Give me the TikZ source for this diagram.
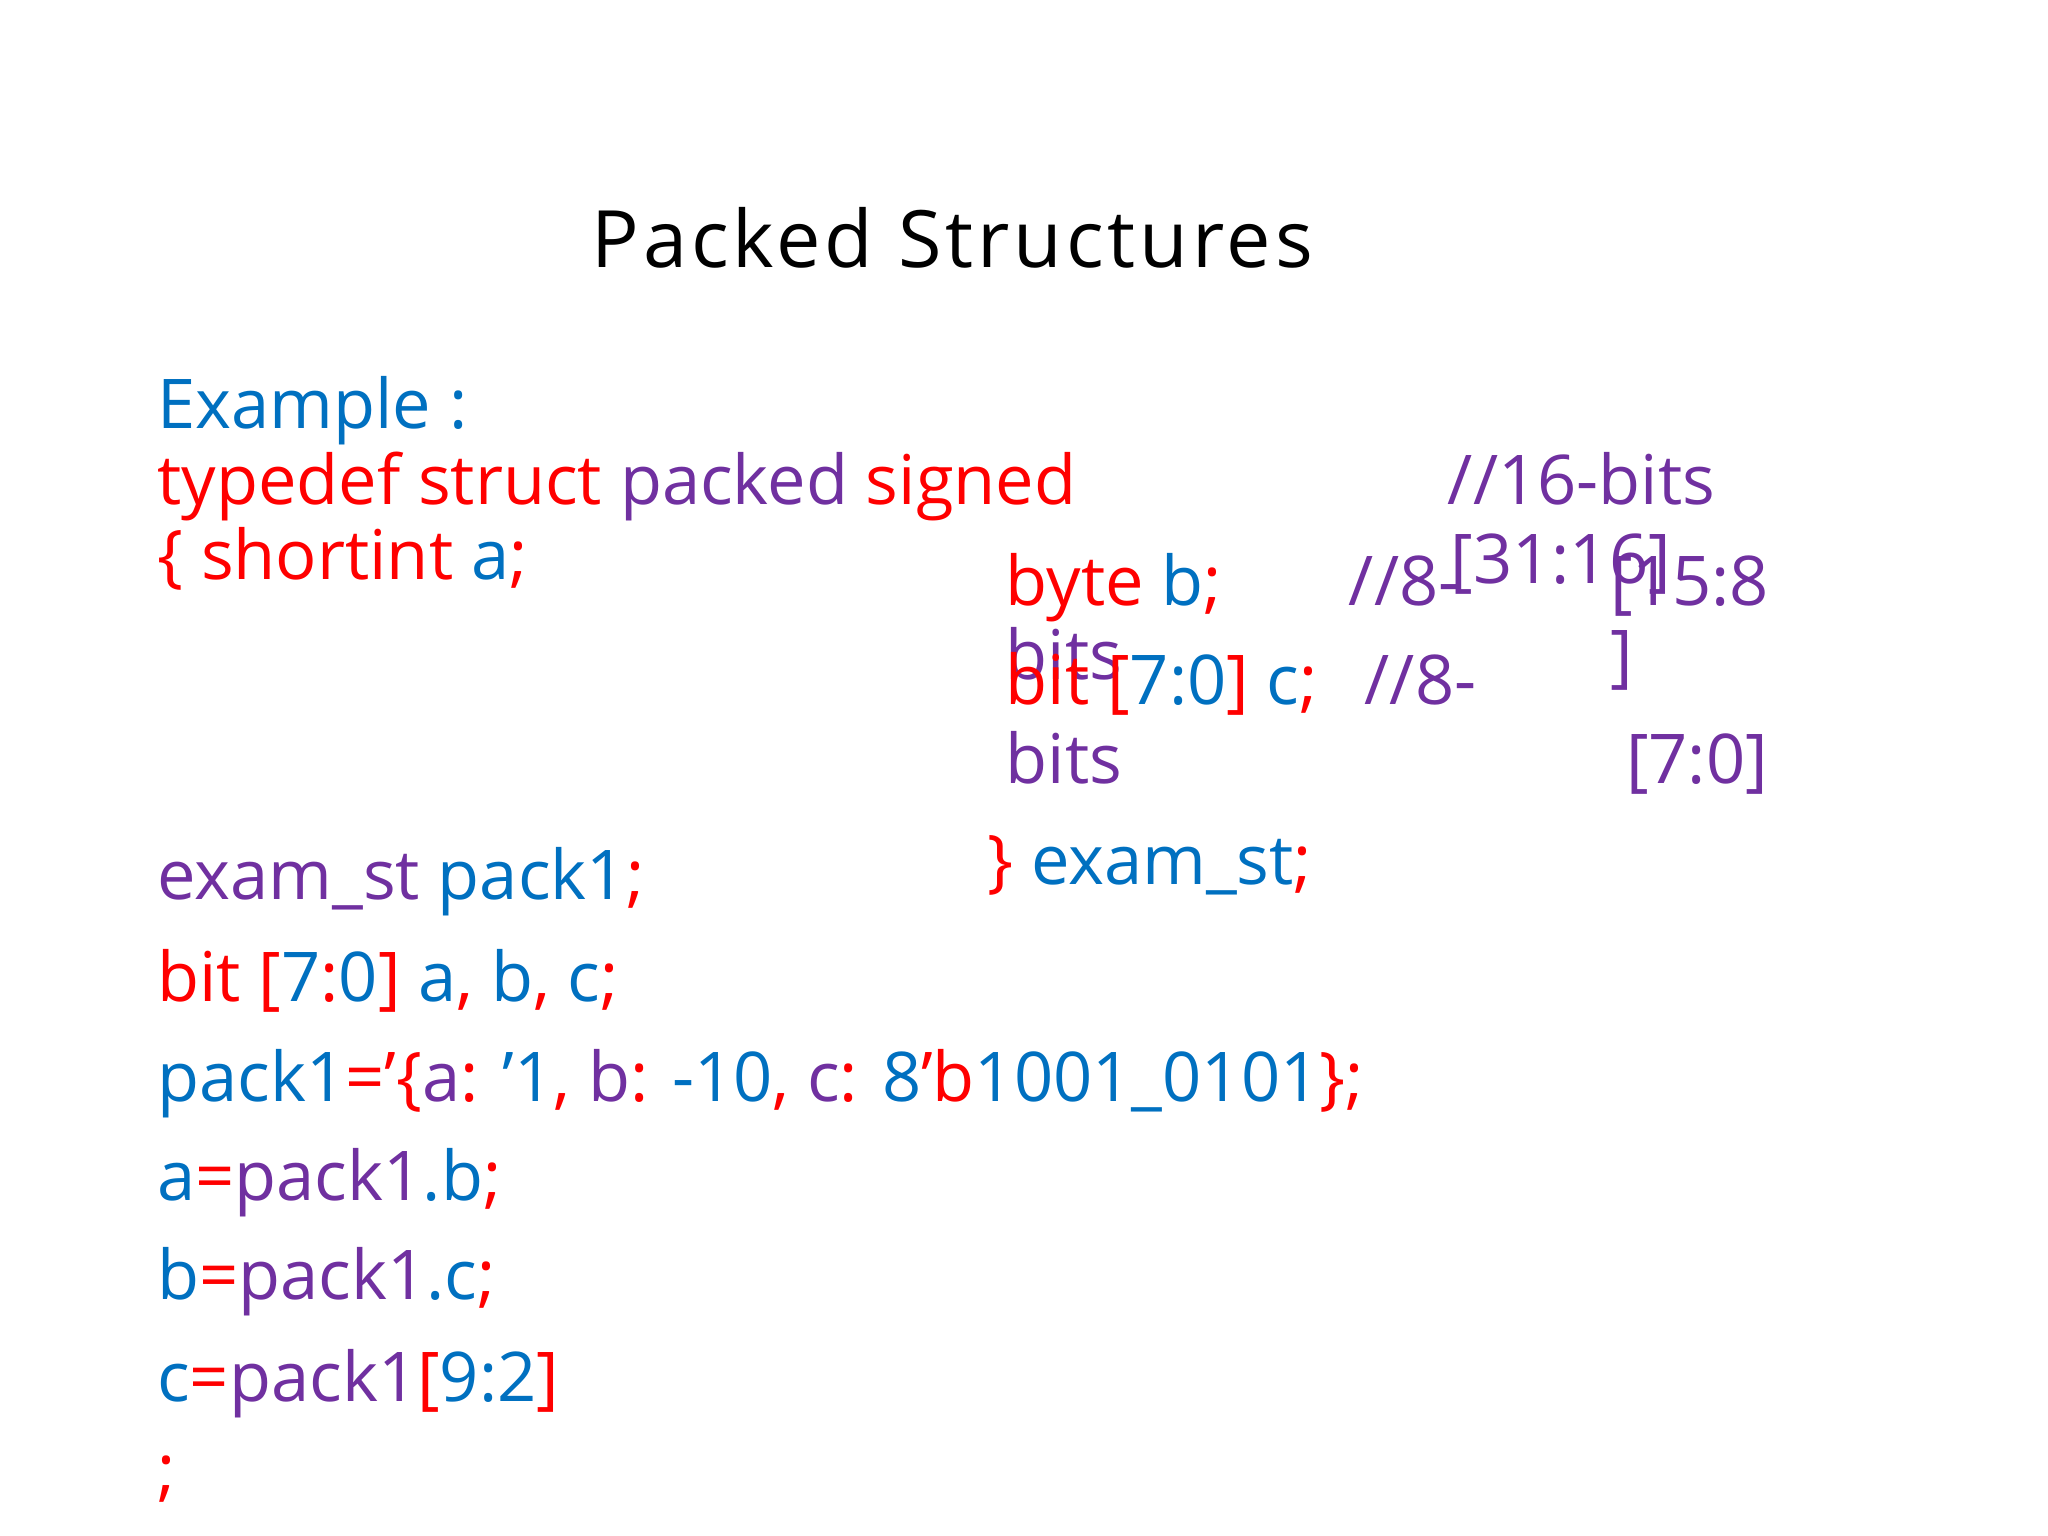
\documentclass[tikz,border=0pt]{standalone}
\usepackage{fontspec}
\setmainfont{Open Sans}
\definecolor{cb}{RGB}{0,112,192}
\definecolor{cr}{RGB}{255,0,0}
\definecolor{cp}{RGB}{112,48,160}
\newcommand{\B}[1]{\textcolor{cb}{#1}}
\newcommand{\R}[1]{\textcolor{cr}{#1}}
\newcommand{\PP}[1]{\textcolor{cp}{#1}}
\begin{document}
\begin{tikzpicture}[x=1pt,y=-1pt,
  txt/.style={anchor=base west,inner sep=0pt,font=\fontsize{52}{62}\selectfont}]
\useasboundingbox (0,0) rectangle (1552,1164);
\node[anchor=base west,inner sep=0pt,font=\fontsize{60}{70}\selectfont\addfontfeature{LetterSpace=5}] (title) at (448,203) {Packed Structures};
\node[txt] (ex) at (119,325) {\B{Example :}};
\node[txt] (l1) at (119,382) {\R{typedef struct} \PP{packed} \R{signed}};
\node[txt] (c1) at (1097,382) {\PP{//16-bits}};
\node[txt] (l2) at (119,439) {\R{\{ shortint} \B{a}\R{;}};
\node[txt] (c2) at (1099,442) {\PP{[31:16]}};
\node[txt] (l3) at (762,459) {\R{byte} \B{b}\R{;}};
\node[txt] (c3) at (1022,459) {\PP{//8-}};
\node[txt] (c4) at (1220,459) {\PP{[15:8}};
\node[txt] (c5) at (762,515) {\PP{bits}};
\node[txt] (c6) at (1220,515) {\PP{]}};
\node[txt] (l4) at (762,534) {\R{bit [}\B{7:0}\R{]} \B{c}\R{;}};
\node[txt] (c7) at (1034,534) {\PP{//8-}};
\node[txt] (c8) at (762,594) {\PP{bits}};
\node[txt] (c9) at (1232,594) {\PP{[7:0]}};
\node[txt] (l5) at (748,670) {\R{\}} \B{exam\_st}\R{;}};
\node[txt] (m1) at (119,682) {\PP{exam\_st} \B{pack1}\R{;}};
\node[txt] (m2) at (119,759) {\R{bit [}\B{7}\R{:}\B{0}\R{]} \B{a}\R{,} \B{b}\R{,} \B{c}\R{;}};
\node[txt] (m3) at (119,835) {\B{pack1}\R{=’\{}\PP{a}\R{:} \B{’1}\R{,} \PP{b}\R{:} \B{-10}\R{,} \PP{c}\R{:} \B{8}\R{’b}\B{1001\_0101}\R{\};}};
\node[txt] (m4) at (119,910) {\B{a}\R{=}\PP{pack1}\B{.b}\R{;}};
\node[txt] (m5) at (119,985) {\B{b}\R{=}\PP{pack1}\B{.c}\R{;}};
\node[txt] (m6) at (119,1062) {\B{c}\R{=}\PP{pack1}\R{[}\B{9:2}\R{]}};
\node[txt] (m7) at (119,1132) {\R{;}};
\end{tikzpicture}
\end{document}
